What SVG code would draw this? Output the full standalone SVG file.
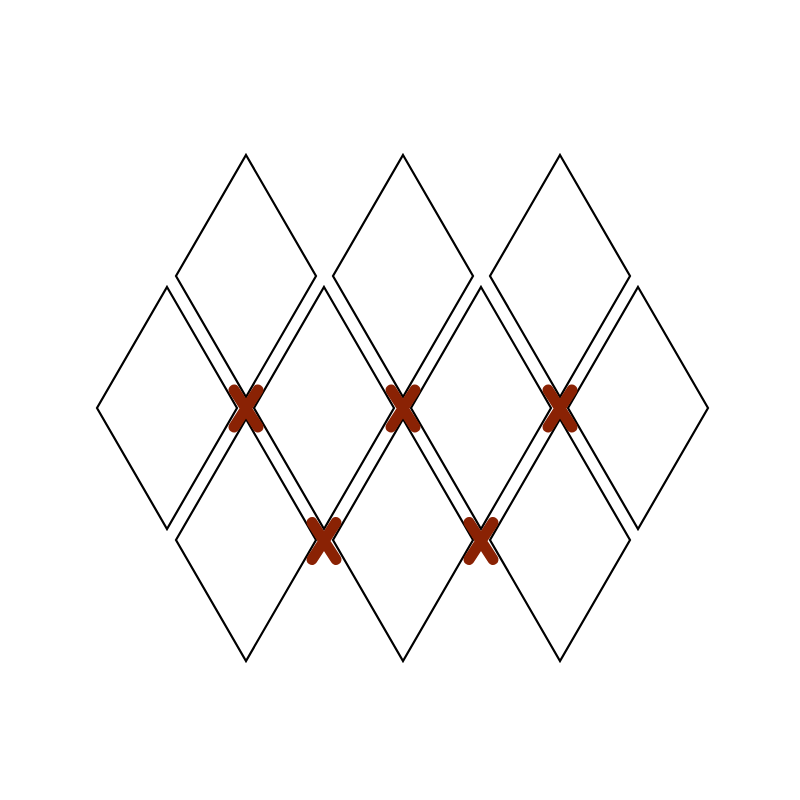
<svg xmlns="http://www.w3.org/2000/svg" width="800" height="800" viewBox="0 0 800 800">
<defs>
<style>
.d{fill:#ffffff;stroke:#000000;stroke-width:2.2;stroke-linejoin:miter}
.x{stroke:#8a2204;stroke-width:11;stroke-linecap:round;fill:none}
</style>
<polygon id="dia" class="d" points="0,-121 70,0 0,121 -70,0"/>
<path id="cross" class="x" d="M-12,-18.5 L12,18.5 M12,-18.5 L-12,18.5"/>
</defs>
<rect width="800" height="800" fill="#ffffff"/>
<g id="top-1"><use href="#dia" x="246" y="276"/></g>
<g id="top-2"><use href="#dia" x="403" y="276"/></g>
<g id="top-3"><use href="#dia" x="560" y="276"/></g>
<g id="mid-1"><use href="#dia" x="167" y="408"/></g>
<g id="mid-2"><use href="#dia" x="324" y="408"/></g>
<g id="mid-3"><use href="#dia" x="481" y="408"/></g>
<g id="mid-4"><use href="#dia" x="638" y="408"/></g>
<g id="bot-1"><use href="#dia" x="246" y="540"/></g>
<g id="bot-2"><use href="#dia" x="403" y="540"/></g>
<g id="bot-3"><use href="#dia" x="560" y="540"/></g>
<g id="marks">
<use href="#cross" x="246" y="408.5"/>
<use href="#cross" x="403" y="408.5"/>
<use href="#cross" x="560" y="408.5"/>
<use href="#cross" x="324" y="541"/>
<use href="#cross" x="481" y="541"/>
</g>
</svg>
